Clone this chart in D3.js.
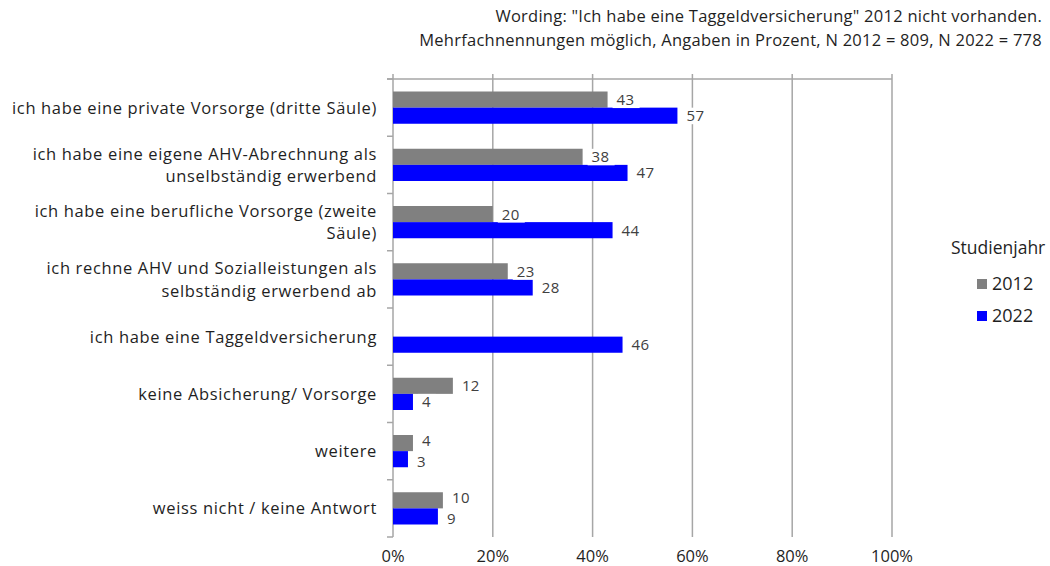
<!DOCTYPE html>
<html>
<head>
<meta charset="utf-8">
<script src="https://cdn.jsdelivr.net/npm/d3@7"></script>
<style>
    body { margin: 0; background: #fff; }
    text { font-family: "Open Sans", sans-serif; }
</style>
</head>
<body>
<svg id="chart" width="1050" height="566"></svg>
<script>
const categories = [
    ["ich habe eine private Vorsorge (dritte Säule)"],
    ["ich habe eine eigene AHV-Abrechnung als", "unselbständig erwerbend"],
    ["ich habe eine berufliche Vorsorge (zweite", "Säule)"],
    ["ich rechne AHV und Sozialleistungen als", "selbständig erwerbend ab"],
    ["ich habe eine Taggeldversicherung"],
    ["keine Absicherung/ Vorsorge"],
    ["weitere"],
    ["weiss nicht / keine Antwort"]
];
const values2012 = [43, 38, 20, 23, null, 12, 4, 10];
const values2022 = [57, 47, 44, 28, 46, 4, 3, 9];
const years = ["2012", "2022"];
const colours = ["#808080", "#0000ff"];
const xTicks = [0, 20, 40, 60, 80, 100];
const titleLines = [
    "Wording: \"Ich habe eine Taggeldversicherung\" 2012 nicht vorhanden.",
    "Mehrfachnennungen möglich, Angaben in Prozent, N 2012 = 809, N 2022 = 778"
];
const legendTitle = "Studienjahr";

const svg = d3.select("#chart");
const gridColour = "#a6a6a6";
const textColour = "#1f1f1f";

const x = d3.scaleLinear().domain([0, 100]).range([393, 892]);
const y = d3.scaleBand().domain(d3.range(categories.length)).range([79, 537]);
const yInner = d3.scaleBand().domain(years).range([12.5, y.bandwidth() - 12.5]);

// title
svg.append("g")
    .selectAll("text")
    .data(titleLines)
    .enter()
    .append("text")
    .attr("x", 1042)
    .attr("y", (d, i) => 22 + i * 24)
    .attr("text-anchor", "end")
    .attr("fill", textColour)
    .style("font-size", "16.5px")
    .style("letter-spacing", "0.25px")
    .text(d => d);

// grid
const grid = svg.append("g");
grid.selectAll("line.v")
    .data(xTicks)
    .enter()
    .append("line")
    .attr("x1", d => x(d)).attr("x2", d => x(d))
    .attr("y1", 74).attr("y2", 537)
    .attr("stroke", gridColour)
    .attr("stroke-width", 1.5);

grid.append("line")
    .attr("x1", 387).attr("x2", x(100))
    .attr("y1", 79).attr("y2", 79)
    .attr("stroke", gridColour)
    .attr("stroke-width", 1.5);

grid.selectAll("line.t")
    .data(d3.range(categories.length + 1))
    .enter()
    .append("line")
    .attr("x1", 387).attr("x2", x(0))
    .attr("y1", d => 79 + d * y.step()).attr("y2", d => 79 + d * y.step())
    .attr("stroke", gridColour)
    .attr("stroke-width", 1.5);

// x axis labels
svg.append("g")
    .selectAll("text")
    .data(xTicks)
    .enter()
    .append("text")
    .attr("x", d => x(d))
    .attr("y", 562)
    .attr("text-anchor", "middle")
    .attr("fill", textColour)
    .style("font-size", "16.5px")
    .text(d => d + "%");

// category labels (wrapped like the original)
const catG = svg.append("g")
    .selectAll("text")
    .data(categories)
    .enter()
    .append("text")
    .attr("text-anchor", "end")
    .attr("fill", textColour)
    .style("font-size", "16.5px")
    .style("letter-spacing", "0.65px");

catG.selectAll("tspan")
    .data((d, i) => d.map((line, j) => ({ line, j, n: d.length, i })))
    .enter()
    .append("tspan")
    .attr("x", 377)
    .attr("y", d => y(d.i) + y.bandwidth() / 2 + 6 + (d.j - (d.n - 1) / 2) * 22.5)
    .text(d => d.line);

// bars
const series = [values2012, values2022];
const flat = [];
categories.forEach((c, i) => {
    series.forEach((vals, s) => {
        if (vals[i] != null) {
            // push close labels apart a little so they don't collide
            const other = series[1 - s][i];
            const nudge = (other != null && Math.abs(other - vals[i]) < 5) ? (s === 0 ? -2.5 : 2.5) : 0;
            flat.push({ i, s, v: vals[i], nudge });
        }
    });
});

svg.append("g")
    .selectAll("rect")
    .data(flat)
    .enter()
    .append("rect")
    .attr("x", x(0))
    .attr("y", d => y(d.i) + yInner(years[d.s]))
    .attr("width", d => x(d.v) - x(0))
    .attr("height", yInner.bandwidth())
    .attr("fill", d => colours[d.s]);

// value labels with white background
const labels = svg.append("g")
    .selectAll("g")
    .data(flat)
    .enter()
    .append("g")
    .attr("transform", d => "translate(" + (x(d.v) + 5) + "," + (y(d.i) + yInner(years[d.s]) + yInner.bandwidth() / 2 + d.nudge) + ")");

labels.append("rect")
    .attr("x", 0)
    .attr("y", -8)
    .attr("width", d => String(d.v).length * 9 + 9)
    .attr("height", 16.5)
    .attr("fill", "#fff");

labels.append("text")
    .attr("x", 4)
    .attr("y", 5.5)
    .attr("fill", "#404040")
    .style("font-size", "15px")
    .style("letter-spacing", "0.4px")
    .text(d => d.v);

// legend
const legend = svg.append("g");
legend.append("text")
    .attr("x", 951)
    .attr("y", 254)
    .attr("fill", textColour)
    .style("font-size", "17.5px")
    .text(legendTitle);

const items = legend.selectAll("g")
    .data(years)
    .enter()
    .append("g")
    .attr("transform", (d, i) => "translate(977," + (279 + i * 32) + ")");

items.append("rect")
    .attr("width", 10)
    .attr("height", 10)
    .attr("fill", (d, i) => colours[i]);

items.append("text")
    .attr("x", 15)
    .attr("y", 11)
    .attr("fill", textColour)
    .style("font-size", "18px")
    .text(d => d);
</script>
</body>
</html>
